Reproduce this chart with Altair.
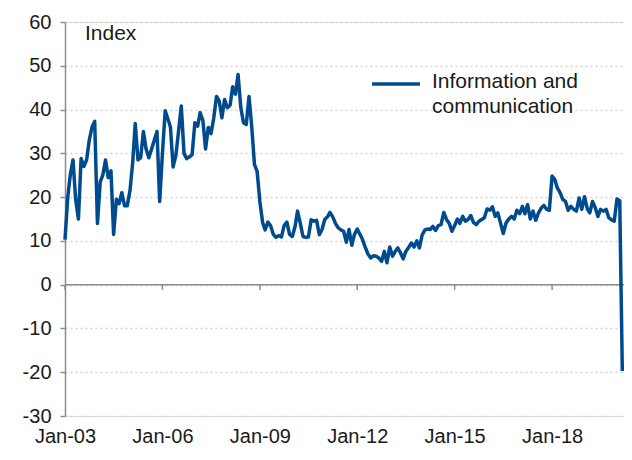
import altair as alt
import pandas as pd

# Monthly index values, Jan-2003 .. Mar-2020
values = [
    10.3, 20.0, 25.0, 28.5, 19.5, 15.0, 28.8, 27.0, 28.5, 33.0, 36.0, 37.3,   # 2003
    14.0, 23.5, 25.0, 28.5, 24.5, 26.0, 11.5, 19.5, 18.5, 21.0, 18.0, 18.0,   # 2004
    21.5, 28.0, 36.8, 28.5, 29.0, 35.0, 31.0, 29.0, 31.0, 33.0, 35.0, 19.0,   # 2005
    30.0, 39.7, 38.0, 36.0, 26.9, 29.5, 35.0, 40.8, 30.0, 28.8, 29.2, 29.7,   # 2006
    37.0, 36.2, 39.3, 37.5, 31.0, 35.9, 34.5, 38.0, 43.0, 42.0, 38.1, 42.3,   # 2007
    40.4, 41.0, 45.2, 43.5, 48.0, 40.4, 37.0, 36.6, 43.0, 36.2, 27.5, 25.9,   # 2008
    19.0, 14.2, 12.5, 14.3, 13.5, 11.5, 10.8, 11.2, 10.9, 13.5, 14.3, 11.5,   # 2009
    11.0, 13.3, 16.8, 14.0, 11.0, 10.8, 10.9, 14.8, 14.5, 14.7, 11.4, 12.6,   # 2010
    14.9, 15.5, 16.5, 15.5, 14.0, 13.0, 12.5, 12.2, 9.7, 12.6, 9.0, 11.5,     # 2011
    12.7, 11.5, 10.3, 8.5, 7.0, 6.1, 6.6, 6.5, 6.1, 5.3, 7.6, 5.0,            # 2012
    8.6, 6.5, 7.5, 8.4, 7.3, 5.9, 7.6, 8.5, 9.5, 8.6, 10.0, 8.4,              # 2013
    11.4, 12.5, 12.7, 12.6, 13.3, 12.4, 13.5, 13.7, 16.5, 14.9, 14.0, 12.2,   # 2014
    13.5, 15.0, 14.0, 15.6, 14.5, 14.9, 15.8, 14.2, 13.7, 14.5, 14.9, 15.3,   # 2015
    17.3, 17.0, 17.8, 15.6, 16.4, 14.0, 11.7, 14.1, 15.0, 15.6, 15.0, 17.0,   # 2016
    16.2, 17.9, 16.2, 18.3, 15.0, 16.8, 14.7, 16.4, 17.5, 18.1, 17.2, 17.0,   # 2017
    24.8, 24.0, 22.1, 21.0, 19.5, 19.0, 17.0, 17.9, 17.2, 16.8, 19.8, 17.2,   # 2018
    20.1, 17.3, 16.4, 19.0, 17.6, 15.6, 17.2, 16.8, 17.2, 15.3, 14.8, 14.5,   # 2019
    19.6, 19.2, -19.7,                                                        # 2020
]
dates = pd.date_range("2003-01-01", periods=len(values), freq="MS").strftime("%Y-%m-%d")

series_name = "Information and\ncommunication"
y_title = "Index"
tick_years = [2003, 2006, 2009, 2012, 2015, 2018]
y_ticks = list(range(-30, 61, 10))

df = pd.DataFrame({"date": dates, "value": values})
ticks_df = pd.DataFrame({"date": [f"{y}-01-01" for y in tick_years]})

FONT = "Liberation Sans"
FS = 21
AFS = 20
BLUE = "#004B8D"
GREY = "#8c8c8c"
TXT = "#1a1a1a"

x_scale = alt.Scale(
    type="utc",
    domain=[alt.DateTime(year=2003, month=1, date=1, utc=True),
            alt.DateTime(year=2020, month=3, date=20, utc=True)],
)
y_scale = alt.Scale(domain=[-30, 60], nice=False, zero=False)

line = alt.Chart(df).mark_line(color=BLUE, strokeWidth=3.5, strokeJoin="round").encode(
    x=alt.X("date:T", scale=x_scale, title=None,
            axis=alt.Axis(
                values=[alt.DateTime(year=y, month=1, date=1, utc=True) for y in tick_years],
                labelExpr="utcFormat(datum.value, '%b-%y')",
                domain=False, ticks=False, grid=False,
                labelFont=FONT, labelFontSize=AFS, labelColor=TXT,
                labelPadding=10, labelFlush=False,
            )),
    y=alt.Y("value:Q", scale=y_scale, title=None,
            axis=alt.Axis(
                values=y_ticks,
                labelExpr="'' + datum.value",
                domain=True, domainColor=GREY, domainWidth=1.5,
                ticks=True, tickColor=GREY, tickSize=5, tickWidth=1.5,
                grid=True, gridColor="#d4d4d4", gridDash=[2, 3], gridWidth=1.5,
                labelFont=FONT, labelFontSize=AFS, labelColor=TXT, labelPadding=9,
            )),
)

zero_line = alt.Chart(pd.DataFrame({"y": [0]})).mark_rule(color=GREY, strokeWidth=1.5).encode(
    y=alt.Y("y:Q", scale=y_scale)
)

zero_ticks = alt.Chart(ticks_df).mark_rule(color=GREY, strokeWidth=1.5).encode(
    x=alt.X("date:T", scale=x_scale),
    y=alt.Y("y0:Q", scale=y_scale),
    y2="y1:Q",
).transform_calculate(y0="0", y1="-1.2")

index_label = alt.Chart(pd.DataFrame({"t": [y_title]})).mark_text(
    font=FONT, fontSize=FS, color=TXT, align="left", baseline="middle"
).encode(x=alt.value(20), y=alt.value(12), text="t:N")

legend_rule = alt.Chart(pd.DataFrame({"a": [0]})).mark_rule(color=BLUE, strokeWidth=3.5).encode(
    x=alt.value(307), x2=alt.value(355), y=alt.value(62)
)
legend_text = alt.Chart(pd.DataFrame({"t": [series_name]})).mark_text(
    font=FONT, fontSize=FS, color=TXT, align="left", baseline="middle",
    lineBreak="\n", lineHeight=25,
).encode(x=alt.value(367), y=alt.value(60), text="t:N")

chart = alt.layer(
    zero_line, zero_ticks, line, index_label, legend_rule, legend_text
).properties(
    width=559, height=394,
    autosize=alt.AutoSizeParams(type="none"),
    padding={"left": 57, "top": 14, "right": 0, "bottom": 32},
).configure_view(stroke=None).configure(background="white")

chart.save("out.html", embed_options={"renderer": "svg", "actions": False})
